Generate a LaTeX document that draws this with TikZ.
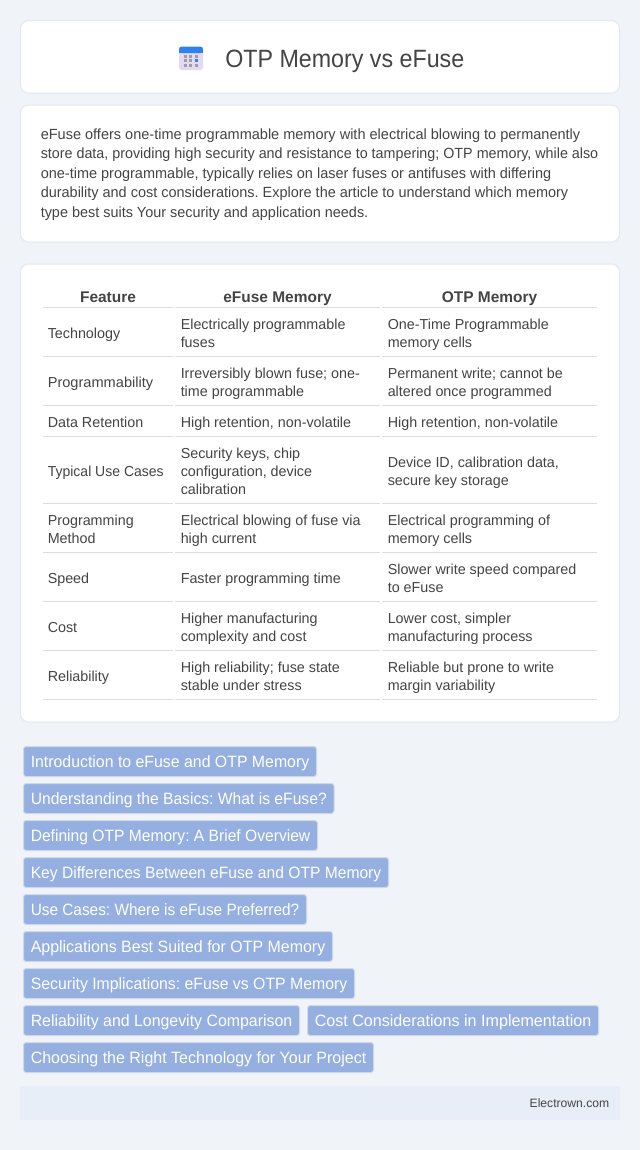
\documentclass[tikz,border=0pt]{standalone}
\usepackage{fontspec}
\setmainfont{Liberation Sans}
\newfontfamily\titlefont[FakeStretch=0.93]{Liberation Sans}
\newfontfamily\cellfont[FakeStretch=0.99]{Liberation Sans}
\newfontfamily\introfont[FakeStretch=0.98]{Liberation Sans}
\newfontfamily\pillfont[FakeStretch=0.97]{Liberation Sans}
\frenchspacing
\definecolor{pagebg}{HTML}{F0F4F9}
\definecolor{cardline}{HTML}{E2E8F0}
\definecolor{ink}{HTML}{444444}
\definecolor{rule}{HTML}{DDDDDD}
\definecolor{btn}{HTML}{94AFE0}
\definecolor{btnline}{HTML}{D0D8E8}
\definecolor{foot}{HTML}{E8EEF8}
\definecolor{icblue}{HTML}{2F80F0}
\definecolor{icbody}{HTML}{E2DAF0}
\definecolor{icdot}{HTML}{A09CAC}
\tikzset{
  x=0.75pt,y=-0.75pt,
  card/.style={draw=cardline,fill=white,line width=0.75pt,rounded corners=6pt},
  body/.style={anchor=base west,inner sep=0pt,text=ink,font=\introfont\fontsize{11.05pt}{13pt}\selectfont},
  cell/.style={anchor=base west,inner sep=0pt,text=ink,font=\cellfont\fontsize{10.85pt}{13pt}\selectfont},
  head/.style={anchor=base,inner sep=0pt,text=ink,font=\fontsize{11.6pt}{14pt}\selectfont\bfseries},
  hair/.style={draw=rule,line width=0.9pt},
}
% left, top, right, text, name: the label is fitted to the pill's inner width
\newcommand{\pillbox}[5]{%
  \draw[draw=btnline,fill=btn,line width=0.75pt,rounded corners=2pt] (#1,#2) rectangle (#3,#2+30);
  \pgfmathsetmacro{\pillw}{(#3-#1-14.5)*0.75}%
  \node[anchor=base west,inner sep=0pt,text=white,font=\pillfont\fontsize{12.3pt}{14pt}\selectfont] (#5) at (#1+7,#2+20.5) {\resizebox{\pillw pt}{\height}{#4}};}
% end x in px, start 40.5
\newcommand{\introline}[4]{%
  \pgfmathsetmacro{\linew}{(#3-40.5)*0.75}%
  \node[body] (#1) at (40.5,#2) {\resizebox{\linew pt}{\height}{#4}};}
\begin{document}
\begin{tikzpicture}
\useasboundingbox (0,0) rectangle (640,1150);
\fill[pagebg] (0,0) rectangle (640,1150);
% cards
\draw[card] (20.5,20.5) rectangle (619.5,93);
\draw[card] (20.5,105) rectangle (619.5,242);
\draw[card] (20.5,264) rectangle (619.5,722);
% icon
\fill[icbody,rounded corners=2pt] (179,47) rectangle (203,70);
\fill[icblue,rounded corners=2pt] (179,46.5) rectangle (203,53);
\fill[icblue] (179,50.5) rectangle (203,53);
\foreach \cx in {185,190.7,196.3}{\foreach \cy in {56,60.7,65.3}{\fill[icdot] (\cx-1.5,\cy-1.5) rectangle (\cx+1.5,\cy+1.5);}}
\fill[icblue] (194.8,59.2) rectangle (197.8,62.2);
% title
\node[anchor=base west,inner sep=0pt,text=ink,font=\titlefont\fontsize{18.75pt}{22pt}\selectfont] (title) at (225,67) {OTP Memory vs eFuse};
% intro
\introline{i1}{139}{580}{eFuse offers one-time programmable memory with electrical blowing to permanently}
\introline{i2}{158.5}{598}{store data, providing high security and resistance to tampering; OTP memory, while also}
\introline{i3}{178}{551}{one-time programmable, typically relies on laser fuses or antifuses with differing}
\introline{i4}{197}{568}{durability and cost considerations. Explore the article to understand which memory}
\introline{i5}{217}{368}{type best suits Your security and application needs.}
% table header
\node[head] (h1) at (108,302) {Feature};
\node[head] (h2) at (277.5,302) {eFuse Memory};
\node[head] (h3) at (489.5,302) {OTP Memory};
% table rules
\foreach \yy in {307.5,356.5,405.5,436.5,503.5,552.5,601.5,650.5,699.5}{
  \draw[hair] (43,\yy) -- (173,\yy);
  \draw[hair] (175,\yy) -- (380,\yy);
  \draw[hair] (382,\yy) -- (597,\yy);
}
% col 1
\node[cell] (c1) at (47.5,338) {Technology};
\node[cell] (c2) at (47.5,387) {\resizebox{79.1pt}{\height}{Programmability}};
\node[cell] (c3) at (47.5,427) {Data Retention};
\node[cell] (c4) at (47.5,476) {\resizebox{87pt}{\height}{Typical Use Cases}};
\node[cell] (c5a) at (47.5,525) {Programming};
\node[cell] (c5b) at (47.5,543) {Method};
\node[cell] (c6) at (47.5,583) {Speed};
\node[cell] (c7) at (47.5,632) {Cost};
\node[cell] (c8) at (47.5,681) {Reliability};
% col 2
\node[cell] (d1a) at (180.5,329) {Electrically programmable};
\node[cell] (d1b) at (180.5,347) {fuses};
\node[cell] (d2a) at (180.5,378) {Irreversibly blown fuse; one-};
\node[cell] (d2b) at (180.5,396) {time programmable};
\node[cell] (d3) at (180.5,427) {High retention, non-volatile};
\node[cell] (d4a) at (180.5,458) {Security keys, chip};
\node[cell] (d4b) at (180.5,476) {configuration, device};
\node[cell] (d4c) at (180.5,494) {calibration};
\node[cell] (d5a) at (180.5,525) {Electrical blowing of fuse via};
\node[cell] (d5b) at (180.5,543) {high current};
\node[cell] (d6) at (180.5,583) {Faster programming time};
\node[cell] (d7a) at (180.5,623) {Higher manufacturing};
\node[cell] (d7b) at (180.5,641) {complexity and cost};
\node[cell] (d8a) at (180.5,672) {High reliability; fuse state};
\node[cell] (d8b) at (180.5,690) {stable under stress};
% col 3
\node[cell] (e1a) at (387.5,329) {One-Time Programmable};
\node[cell] (e1b) at (387.5,347) {memory cells};
\node[cell] (e2a) at (387.5,378) {Permanent write; cannot be};
\node[cell] (e2b) at (387.5,396) {altered once programmed};
\node[cell] (e3) at (387.5,427) {High retention, non-volatile};
\node[cell] (e4a) at (387.5,467) {Device ID, calibration data,};
\node[cell] (e4b) at (387.5,485) {secure key storage};
\node[cell] (e5a) at (387.5,525) {Electrical programming of};
\node[cell] (e5b) at (387.5,543) {memory cells};
\node[cell] (e6a) at (387.5,574) {Slower write speed compared};
\node[cell] (e6b) at (387.5,592) {to eFuse};
\node[cell] (e7a) at (387.5,623) {Lower cost, simpler};
\node[cell] (e7b) at (387.5,641) {manufacturing process};
\node[cell] (e8a) at (387.5,672) {Reliable but prone to write};
\node[cell] (e8b) at (387.5,690) {margin variability};
% pills
\pillbox{23.5}{746.5}{316.5}{Introduction to eFuse and OTP Memory}{p1}
\pillbox{23.5}{783.5}{334}{Understanding the Basics: What is eFuse?}{p2}
\pillbox{23.5}{820.5}{317.5}{Defining OTP Memory: A Brief Overview}{p3}
\pillbox{23.5}{857.5}{388.5}{Key Differences Between eFuse and OTP Memory}{p4}
\pillbox{23.5}{894.5}{306.5}{Use Cases: Where is eFuse Preferred?}{p5}
\pillbox{23.5}{931.5}{332.5}{Applications Best Suited for OTP Memory}{p6}
\pillbox{23.5}{968.5}{354.5}{Security Implications: eFuse vs OTP Memory}{p7}
\pillbox{23.5}{1005.5}{299.5}{Reliability and Longevity Comparison}{p8}
\pillbox{307.5}{1005.5}{598.5}{Cost Considerations in Implementation}{p9}
\pillbox{23.5}{1042.5}{373.5}{Choosing the Right Technology for Your Project}{p10}
% footer
\fill[foot] (20,1086) rectangle (620,1120);
\node[anchor=base east,inner sep=0pt,text=ink,font=\fontsize{9.1pt}{11pt}\selectfont] (foot) at (609.5,1107) {Electrown.com};
\end{tikzpicture}
\end{document}
